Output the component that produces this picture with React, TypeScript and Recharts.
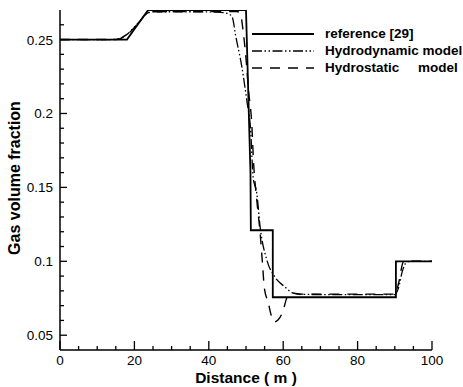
import { Legend, Line, LineChart, XAxis, YAxis } from "recharts";

// x positions (m) and gas volume fraction for each curve
const referenceX = [0, 18, 23.7, 50, 51.2, 51.3, 57.2, 57.2, 90.3, 90.3, 100];
const referenceY = [0.25, 0.25, 0.27, 0.27, 0.16, 0.121, 0.121, 0.0757, 0.0757, 0.1, 0.1];

const hydrodynamicX = [
  0, 14, 16, 18, 20, 22, 23.5, 25, 35, 42, 44, 45.5, 46.4, 47.1, 48.9, 50.2,
  51.3, 51.9, 52.9, 53.8, 55.6, 57.8, 60.5, 62.7, 65, 75, 90, 91, 92, 93, 94, 100,
];
const hydrodynamicY = [
  0.25, 0.25, 0.2508, 0.2535, 0.2585, 0.264, 0.2678, 0.2688, 0.2688, 0.2686,
  0.2682, 0.2672, 0.2645, 0.2543, 0.2313, 0.209, 0.1867, 0.157, 0.146, 0.1232,
  0.1009, 0.0893, 0.0826, 0.0785, 0.0776, 0.0775, 0.0775, 0.082, 0.093, 0.099,
  0.1, 0.1,
];

const hydrostaticX = [
  0, 15, 17, 19, 21, 23, 24.5, 35, 47.5, 48.4, 49.3, 50.2, 50.6, 51.6, 52.0,
  52.9, 53.8, 54.5, 54.9, 56.0, 56.9, 57.6, 58.6, 59.9, 61.1, 62.7, 65, 75,
  90.2, 91, 92.4, 100,
];
const hydrostaticY = [
  0.25, 0.25, 0.2515, 0.2555, 0.261, 0.267, 0.2688, 0.269, 0.269, 0.268,
  0.2543, 0.2313, 0.2178, 0.1907, 0.1684, 0.1414, 0.1191, 0.0961, 0.0826,
  0.0718, 0.0624, 0.059, 0.0603, 0.066, 0.0759, 0.0785, 0.0778, 0.0778,
  0.0778, 0.085, 0.1, 0.1,
];

const xTicks = [
  0, 5, 10, 15, 20, 25, 30, 35, 40, 45, 50, 55, 60, 65, 70, 75, 80, 85, 90, 95, 100,
];
const xLabels = [0, 20, 40, 60, 80, 100];
const yTicks = [
  0.05, 0.06, 0.07, 0.08, 0.09, 0.1, 0.11, 0.12, 0.13, 0.14, 0.15, 0.16, 0.17,
  0.18, 0.19, 0.2, 0.21, 0.22, 0.23, 0.24, 0.25, 0.26,
];
const yLabels = [0.05, 0.1, 0.15, 0.2, 0.25];

const seriesNames = ["reference [29]", "Hydrodynamic model", "Hydrostatic     model"];

const toPoints = (xs: number[], ys: number[]) =>
  xs.map((x, i) => ({ x, y: ys[i] }));

const series = [
  { name: seriesNames[0], data: toPoints(referenceX, referenceY), dash: undefined, width: 1.8 },
  { name: seriesNames[1], data: toPoints(hydrodynamicX, hydrodynamicY), dash: "10 2.5 1.5 2.5 1.5 2.5", width: 1.3 },
  { name: seriesNames[2], data: toPoints(hydrostaticX, hydrostaticY), dash: "10 8", width: 1.4 },
];

const FONT = '"Liberation Sans", Arial, sans-serif';

function XTick({ x, y, payload }: any) {
  const major = xLabels.includes(payload.value);
  return (
    <g>
      <line x1={x} x2={x} y1={y} y2={y - (major ? 9 : 4)} stroke="#000" strokeWidth={1.3} />
      {major && (
        <text x={x} y={y + 15} textAnchor="middle" fontSize={13.5} fontFamily={FONT} fill="#000">
          {payload.value}
        </text>
      )}
    </g>
  );
}

function YTick({ x, y, payload }: any) {
  const major = yLabels.some((v) => Math.abs(v - payload.value) < 1e-6);
  return (
    <g>
      <line x1={x} x2={x + (major ? 7 : 4)} y1={y} y2={y} stroke="#000" strokeWidth={1.3} />
      {major && (
        <text x={x - 7} y={y + 5} textAnchor="end" fontSize={13.5} fontFamily={FONT} fill="#000">
          {String(payload.value)}
        </text>
      )}
    </g>
  );
}

function LegendBox() {
  return (
    <div style={{ fontFamily: FONT, fontWeight: "bold", fontSize: 13.5 }}>
      {series.map((s) => (
        <div key={s.name} style={{ display: "flex", alignItems: "center", height: 17 }}>
          <svg width={62} height={8} style={{ marginRight: 11 }}>
            <line x1={0} x2={62} y1={4} y2={4} stroke="#000" strokeWidth={s.width} strokeDasharray={s.dash} />
          </svg>
          <span style={{ whiteSpace: "pre", lineHeight: "17px" }}>{s.name}</span>
        </div>
      ))}
    </div>
  );
}

export default function App() {
  return (
    <div style={{ position: "absolute", left: 0, top: 0, width: 463, height: 387, background: "#fff" }}>
      <LineChart width={463} height={387} margin={{ top: 10, right: 31, bottom: 0, left: 0 }}>
        <XAxis
          type="number"
          dataKey="x"
          domain={[0, 100]}
          ticks={xTicks}
          interval={0}
          tickSize={0}
          tickMargin={0}
          tickLine={false}
          tick={<XTick />}
          height={37}
          axisLine={{ stroke: "#000", strokeWidth: 1.5 }}
        />
        <YAxis
          type="number"
          dataKey="y"
          domain={[0.04, 0.27]}
          allowDataOverflow
          ticks={yTicks}
          interval={0}
          tickSize={0}
          tickMargin={0}
          tickLine={false}
          tick={<YTick />}
          width={60}
          axisLine={{ stroke: "#000", strokeWidth: 1.5 }}
        />
        <Legend
          layout="vertical"
          align="center"
          verticalAlign="middle"
          content={() => <LegendBox />}
          wrapperStyle={{ left: 252, top: 25, width: 215, height: 52 }}
        />
        {series.map((s, i) => (
          <Line
            key={s.name}
            data={s.data}
            dataKey="y"
            name={s.name}
            type={i === 0 ? "linear" : "monotone"}
            stroke="#000"
            strokeWidth={s.width}
            strokeDasharray={s.dash}
            dot={false}
            activeDot={false}
            isAnimationActive={false}
          />
        ))}
      </LineChart>
      <div
        style={{
          position: "absolute",
          left: 146,
          width: 200,
          top: 370,
          textAlign: "center",
          fontFamily: FONT,
          fontWeight: "bold",
          fontSize: 15.5,
          lineHeight: "16px",
        }}
      >
        Distance ( m )
      </div>
      <div
        style={{
          position: "absolute",
          left: 14.5 - 110,
          width: 220,
          top: 178 - 8,
          height: 16,
          textAlign: "center",
          fontFamily: FONT,
          fontWeight: "bold",
          fontSize: 16,
          lineHeight: "16px",
          transform: "rotate(-90deg)",
        }}
      >
        Gas volume fraction
      </div>
    </div>
  );
}
